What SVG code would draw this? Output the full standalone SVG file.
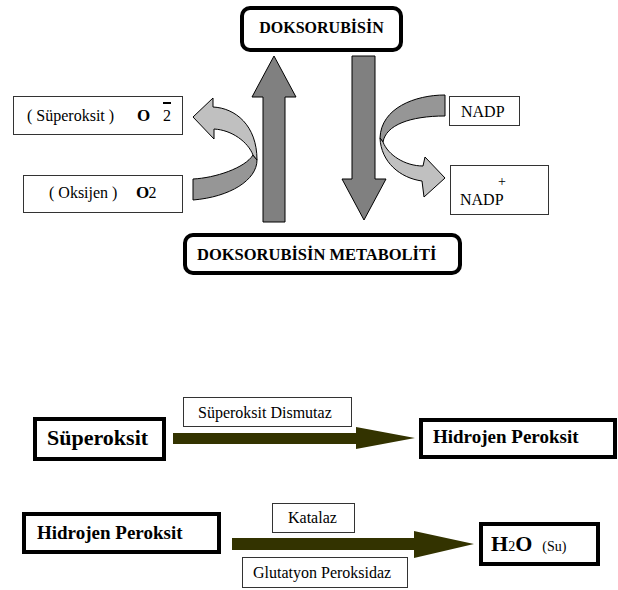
<svg xmlns="http://www.w3.org/2000/svg" width="618" height="590" viewBox="0 0 618 590" font-family="'Liberation Serif', 'Times New Roman', Times, serif">
<style>
text{font-family:'Liberation Serif','Times New Roman',Times,serif;fill:#000}
.b{font-weight:bold}
.thin{fill:#fff;stroke:#333;stroke-width:1}
.thick{fill:#fff;stroke:#000;stroke-width:4}
.big{fill:#808080;stroke:#000;stroke-width:1}
.lt{fill:#c0c0c0;stroke:#000;stroke-width:1}
.dk{fill:#969696;stroke:#000;stroke-width:1}
.ol{fill:#333300;stroke:none}
</style>
<g id="connectors">
<path class="big" d="M263,222 L263,97 L252,97 L274,56 L296,97 L285,97 L285,222 Z"/>
<path class="big" d="M352,56 L375,56 L375,179 L386,179 L364,220 L342,179 L352,179 Z"/>
<path class="dk" d="M193,179 C215,178 245,168 253,155 L257,160 C257,180 230,197 193,200 Z"/>
<path class="lt" d="M193,117 L213,98 L213,107 C235,108 257,125 257,160 L253,155 C248,142 232,130 214,129 L214,139 Z"/>
<path class="dk" d="M445,95 C415,95 381,108 380,138 L383,142 C386,125 410,116 445,116 Z"/>
<path class="lt" d="M383,142 C388,155 405,166 423,166 L425,157 L445,178 L424,197 L422,181 C400,178 381,162 380,138 Z"/>
<path class="ol" d="M173,433 L356,433 L356,427 L415,438 L356,449 L356,444 L173,444 Z"/>
<path class="ol" d="M232,538 L414,538 L414,531 L474,544 L414,558 L414,550 L232,550 Z"/>
</g>
<g id="doksorubisin">
<rect class="thick" x="242" y="8" width="159" height="42" rx="8"/>
<text class="b" x="321.5" y="33" font-size="16" text-anchor="middle">DOKSORUBİSİN</text>
</g>
<g id="metabolit">
<rect class="thick" x="185" y="235" width="275" height="38" rx="8"/>
<text class="b" x="197" y="260" font-size="16.5">DOKSORUBİSİN METABOLİTİ</text>
</g>
<g id="superoksit-o2">
<rect class="thin" x="13.5" y="96.5" width="169" height="38"/>
<text x="27" y="121" font-size="16">( Süperoksit )</text>
<text class="b" x="137" y="121" font-size="17">O</text>
<text x="163" y="121" font-size="16">2</text>
<line x1="163" y1="103" x2="171" y2="103" stroke="#000" stroke-width="2"/>
</g>
<g id="oksijen">
<rect class="thin" x="23.5" y="175.5" width="159" height="37"/>
<text x="49" y="198" font-size="16">( Oksijen )</text>
<text class="b" x="136" y="198" font-size="17">O</text>
<text x="148.5" y="198" font-size="16">2</text>
</g>
<g id="nadp">
<rect class="thin" x="449.5" y="96.5" width="70" height="29"/>
<text x="461" y="117" font-size="16">NADP</text>
</g>
<g id="nadp-plus">
<rect class="thin" x="450.5" y="165.5" width="98" height="49"/>
<text x="502" y="186" font-size="14" text-anchor="middle">+</text>
<text x="460" y="205" font-size="16">NADP</text>
</g>
<g id="superoksit">
<rect class="thick" x="35" y="419" width="129" height="40"/>
<text class="b" x="47" y="445" font-size="22">Süperoksit</text>
</g>
<g id="sod">
<rect class="thin" x="183.5" y="397.5" width="168" height="29"/>
<text x="198" y="418" font-size="16">Süperoksit Dismutaz</text>
</g>
<g id="hidrojen1">
<rect class="thick" x="421" y="420" width="194" height="37"/>
<text class="b" x="433" y="443" font-size="19">Hidrojen Peroksit</text>
</g>
<g id="hidrojen2">
<rect class="thick" x="24" y="514" width="195" height="38"/>
<text class="b" x="37" y="539" font-size="19">Hidrojen Peroksit</text>
</g>
<g id="katalaz">
<rect class="thin" x="272.5" y="503.5" width="82" height="29"/>
<text x="288" y="523" font-size="16">Katalaz</text>
</g>
<g id="gpx">
<rect class="thin" x="242.5" y="557.5" width="165" height="30"/>
<text x="253" y="578" font-size="16">Glutatyon Peroksidaz</text>
</g>
<g id="h2o">
<rect class="thick" x="481" y="524" width="117" height="40"/>
<text x="491" y="551"><tspan class="b" font-size="22">H</tspan><tspan font-size="14">2</tspan><tspan class="b" font-size="22">O</tspan><tspan font-size="14" dx="10">(Su)</tspan></text>
</g>
</svg>
